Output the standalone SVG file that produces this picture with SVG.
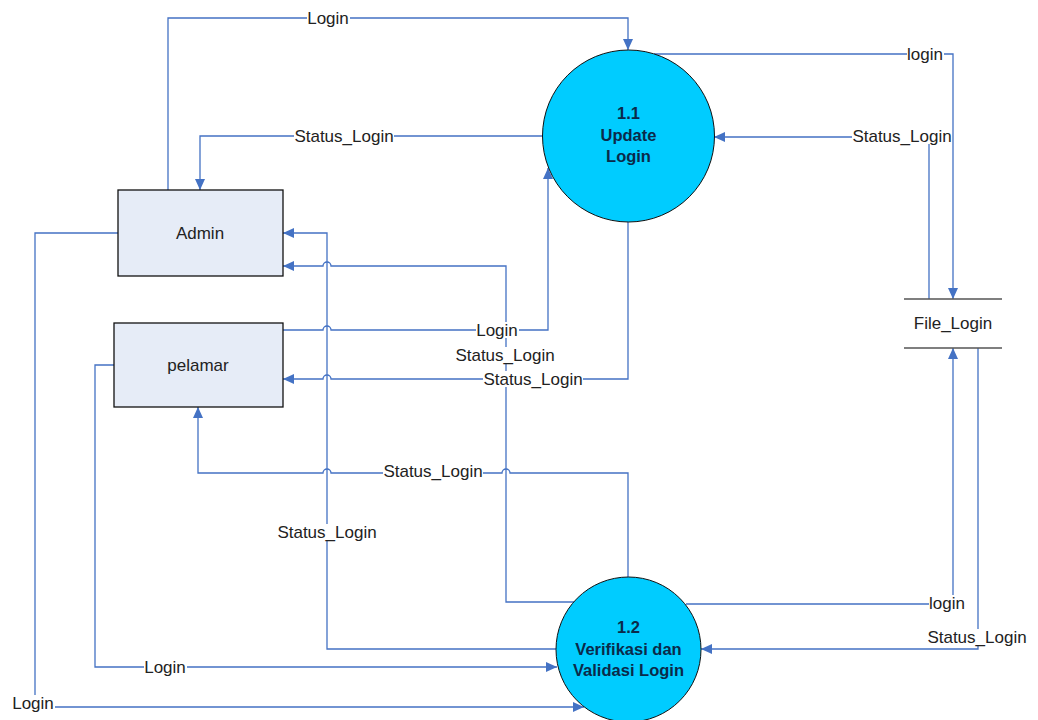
<svg xmlns="http://www.w3.org/2000/svg" width="1038" height="720" viewBox="0 0 1038 720">
<style>
.ln{fill:none;stroke:#4472C4;stroke-width:1.3}
.box{fill:#E6ECF7;stroke:#111;stroke-width:1.3}
.proc{fill:#00CCFF;stroke:#111;stroke-width:1}
.store{stroke:#555;stroke-width:1.3}
.t{font-family:"Liberation Sans",Arial,sans-serif;font-size:17px;fill:#222;text-anchor:middle}
.pt{font-family:"Liberation Sans",Arial,sans-serif;font-size:16.5px;font-weight:bold;fill:#0b2a4a;text-anchor:middle}
.bg{fill:#fff}
</style>
<defs>
<marker id="ah" markerUnits="userSpaceOnUse" markerWidth="12" markerHeight="10" refX="11" refY="5" orient="auto">
<path d="M0,0 L11,5 L0,10 Z" fill="#4472C4"/>
</marker>
</defs>
<g id="connectors">
<path class="ln" marker-end="url(#ah)" d="M168,190 V18 H628 V50"/>
<path class="ln" marker-end="url(#ah)" d="M543,136 H200 V190"/>
<path class="ln" marker-end="url(#ah)" d="M283,330 H323 a4,4 0 0 1 8,0 H548 V168"/>
<path class="ln" marker-end="url(#ah)" d="M628,222 V379 H331 a4,4 0 0 0 -8,0 H283"/>
<path class="ln" marker-end="url(#ah)" d="M628,577 V473 H510 a4,4 0 0 0 -8,0 H331 a4,4 0 0 0 -8,0 H198 V407"/>
<path class="ln" marker-end="url(#ah)" d="M574,602 H506 V266 H331 a4,4 0 0 0 -8,0 H283"/>
<path class="ln" marker-end="url(#ah)" d="M556,649 H327 V233 H283"/>
<path class="ln" marker-end="url(#ah)" d="M114,365 H95 V667 H557"/>
<path class="ln" marker-end="url(#ah)" d="M118,233 H35 V707 H584"/>
<path class="ln" marker-end="url(#ah)" d="M654,54 H953 V299"/>
<path class="ln" marker-end="url(#ah)" d="M929,299 V137 H714"/>
<path class="ln" marker-end="url(#ah)" d="M686,604 H953 V348"/>
<path class="ln" marker-end="url(#ah)" d="M978,348 V649 H701"/>
</g>
<g id="labels">
<rect class="bg" x="307" y="10" width="43" height="16"/><text class="t" x="328" y="24">Login</text>
<rect class="bg" x="294" y="128" width="100" height="16"/><text class="t" x="344" y="142">Status_Login</text>
<rect class="bg" x="476" y="322" width="43" height="16"/><text class="t" x="497" y="336">Login</text>
<rect class="bg" x="455" y="347" width="100" height="16"/><text class="t" x="505" y="361">Status_Login</text>
<rect class="bg" x="483" y="371" width="100" height="16"/><text class="t" x="533" y="385">Status_Login</text>
<rect class="bg" x="383" y="463" width="100" height="16"/><text class="t" x="433" y="477">Status_Login</text>
<rect class="bg" x="277" y="524" width="100" height="16"/><text class="t" x="327" y="538">Status_Login</text>
<rect class="bg" x="144" y="659" width="43" height="16"/><text class="t" x="165" y="673">Login</text>
<rect class="bg" x="12" y="695" width="43" height="16"/><text class="t" x="33" y="709">Login</text>
<rect class="bg" x="907" y="46" width="37" height="16"/><text class="t" x="925" y="60">login</text>
<rect class="bg" x="852" y="128" width="100" height="16"/><text class="t" x="902" y="142">Status_Login</text>
<rect class="bg" x="929" y="595" width="37" height="16"/><text class="t" x="947" y="609">login</text>
<rect class="bg" x="927" y="629" width="100" height="16"/><text class="t" x="977" y="643">Status_Login</text>
</g>
<g id="admin">
<rect class="box" x="118" y="190" width="165" height="86"/>
<text class="t" x="200" y="239">Admin</text>
</g>
<g id="pelamar">
<rect class="box" x="114" y="323" width="169" height="84"/>
<text class="t" x="198" y="371">pelamar</text>
</g>
<g id="p1_1">
<circle class="proc" cx="628.5" cy="136" r="86"/>
<text class="pt" x="628.5" y="119">1.1</text>
<text class="pt" x="628.5" y="141">Update</text>
<text class="pt" x="628.5" y="162">Login</text>
</g>
<g id="p1_2">
<circle class="proc" cx="628.5" cy="649.5" r="72.5"/>
<text class="pt" x="628.5" y="633">1.2</text>
<text class="pt" x="628.5" y="655">Verifikasi dan</text>
<text class="pt" x="628.5" y="676">Validasi Login</text>
</g>
<g id="file_login">
<line class="store" x1="904" y1="299" x2="1002" y2="299"/>
<line class="store" x1="904" y1="348" x2="1002" y2="348"/>
<text class="t" x="953" y="329">File_Login</text>
</g>
</svg>
